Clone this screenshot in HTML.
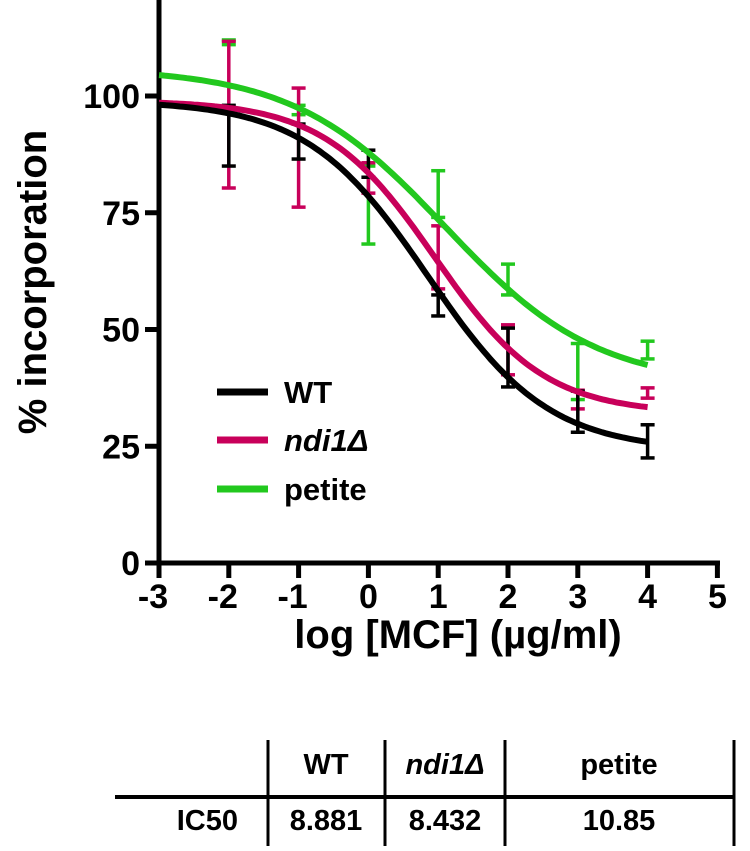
<!DOCTYPE html>
<html><head><meta charset="utf-8"><style>
body{margin:0;background:#fff;width:750px;height:846px;overflow:hidden}
svg{font-family:"Liberation Sans",Arial,sans-serif;font-weight:bold}
</style></head><body>
<svg id="c" width="750" height="846"></svg>
<script>
const xs=[-2,-1,0,1,2,3,4];
const seriesNames=["WT","ndi1Δ","petite"];
const seriesColors=["#000000","#c8005a","#22c81e"];
const wtHi=[98,94,88.4,57.4,50.3,36.8,29.6];
const wtLo=[85,86.5,82.6,52.9,37.7,28,22.5];
const ndHi=[111.7,101.7,85.7,72.2,51,37,37.5];
const ndLo=[80.3,76.2,79.2,58.7,40.3,33,35.3];
const peHi=[112,98,85,84,64,47,47.5];
const peLo=[111,96,68.3,74,57.4,35,43.7];
const tops=[99,99,106];
const bottoms=[24,32,38];
const hills=[0.5,0.55,0.4];
const fitLogEC=[0.85,0.95,1.1];
const ic50=["8.881","8.432","10.85"];
const xTicks=[-3,-2,-1,0,1,2,3,4,5];
const yTicks=[0,25,50,75,100];
const NS="http://www.w3.org/2000/svg";
const svg=document.getElementById('c');
const X=v=>159+(v+3)*69.8;
const Y=v=>563-v*4.67;
function el(t,a,p){const e=document.createElementNS(NS,t);for(const k in a)e.setAttribute(k,a[k]);(p||svg).appendChild(e);return e;}
let a=el('line',{x1:159,y1:0,x2:159,y2:565,stroke:'#000','stroke-width':5});

a=el('line',{x1:157,y1:563,x2:720,y2:563,stroke:'#000','stroke-width':5});

xTicks.forEach(t=>{
 let l=el('line',{x1:X(t),y1:563,x2:X(t),y2:578,stroke:'#000','stroke-width':5});
 
 let tx=el('text',{x:X(t)-(t<0?6:0),y:608,'text-anchor':'middle','font-size':34});tx.textContent=t;
 
});
yTicks.forEach(t=>{
 let l=el('line',{x1:145,y1:Y(t),x2:159,y2:Y(t),stroke:'#000','stroke-width':5});
 
 let tx=el('text',{x:140,y:Y(t)+12,'text-anchor':'end','font-size':34});tx.textContent=t;
 
});
let t=el('text',{x:458,y:648,'text-anchor':'middle','font-size':40});t.textContent='log [MCF] (µg/ml)';

t=el('text',{x:0,y:0,'text-anchor':'middle','font-size':40,transform:'translate(46,282) rotate(-90)'});t.textContent='% incorporation';

const his=[wtHi,ndHi,peHi],los=[wtLo,ndLo,peLo];
[2,1,0].forEach(s=>{
 xs.forEach((x,i)=>{
  const g=el('g',{stroke:seriesColors[s],'stroke-width':3.5});
  
  
  el('line',{x1:X(x),x2:X(x),y1:Y(his[s][i]),y2:Y(los[s][i])},g);
  el('line',{x1:X(x)-7,x2:X(x)+7,y1:Y(his[s][i]),y2:Y(his[s][i])},g);
  el('line',{x1:X(x)-7,x2:X(x)+7,y1:Y(los[s][i]),y2:Y(los[s][i])},g);
 });
});
[2,1,0].forEach(s=>{
 const lic=fitLogEC[s];let d='';
 for(let x=-3;x<=4.0001;x+=0.05){
  const v=bottoms[s]+(tops[s]-bottoms[s])/(1+Math.pow(10,(x-lic)*hills[s]));
  d+=(d?'L':'M')+X(x).toFixed(1)+','+Y(v).toFixed(1);
 }
 const p=el('path',{d:d,fill:'none',stroke:seriesColors[s],'stroke-width':6});
 
 
});
[392,440,489].forEach((y,s)=>{
 const l=el('line',{x1:217,x2:268,y1:y,y2:y,stroke:seriesColors[s],'stroke-width':7});
 
 const tx=el('text',{x:284,y:y+11,'font-size':31,'font-style':s==1?'italic':'normal'});tx.textContent=seriesNames[s];
 
});
const tg=el('g',{});
el('line',{x1:115,x2:734,y1:797,y2:797,stroke:'#000','stroke-width':4},tg);
[268,385,505,734].forEach(x=>el('line',{x1:x,x2:x,y1:740,y2:846,stroke:'#000','stroke-width':3},tg));
const cx=[326,445,619];
seriesNames.forEach((n,i)=>{
 const h=el('text',{x:cx[i],y:774,'text-anchor':'middle','font-size':29,'font-style':i==1?'italic':'normal'},tg);h.textContent=n;
 
 const v=el('text',{x:cx[i],y:830,'text-anchor':'middle','font-size':29},tg);v.textContent=ic50[i];
 
});
t=el('text',{x:238,y:830,'text-anchor':'end','font-size':29},tg);t.textContent='IC50';

</script>
</body></html>
